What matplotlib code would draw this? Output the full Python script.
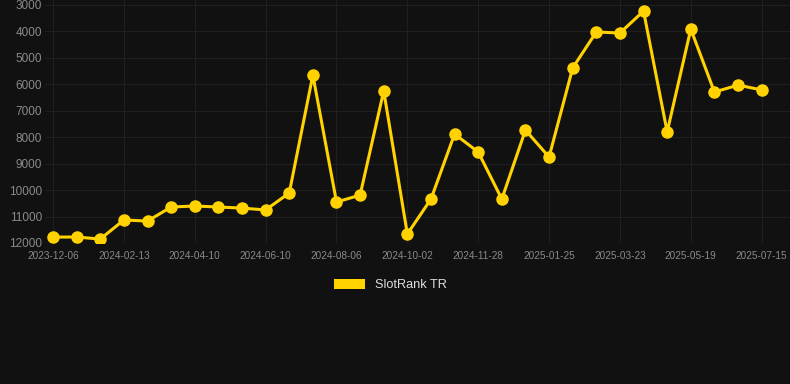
import matplotlib.pyplot as plt
from matplotlib.patches import Patch

# Data (rank, lower is better; axis inverted)
dates = ['2023-12-06', '2023-12-29', '2024-01-21', '2024-02-13', '2024-03-02',
         '2024-03-21', '2024-04-10', '2024-04-30', '2024-05-21', '2024-06-10',
         '2024-06-29', '2024-07-18', '2024-08-06', '2024-08-25', '2024-09-13',
         '2024-10-02', '2024-10-21', '2024-11-09', '2024-11-28', '2024-12-17',
         '2025-01-05', '2025-01-25', '2025-02-13', '2025-03-04', '2025-03-23',
         '2025-04-11', '2025-04-30', '2025-05-19', '2025-06-07', '2025-06-26',
         '2025-07-15']
rank = [11775, 11775, 11850, 11130, 11170, 10640, 10600, 10640, 10680, 10750,
        10110, 5650, 10450, 10190, 6250, 11660, 10340, 7880, 8560, 10340,
        7730, 8750, 5380, 4020, 4060, 3230, 7800, 3910, 6290, 6030, 6210]
yticks = [3000, 4000, 5000, 6000, 7000, 8000, 9000, 10000, 11000, 12000]

BG = '#111111'
GOLD = '#FFD200'

fig = plt.figure(figsize=(7.9, 3.84), dpi=100, facecolor=BG)
ax = fig.add_axes([45 / 790, 1 - 243 / 384, 745 / 790, 243 / 384])
ax.set_facecolor(BG)

x = list(range(len(dates)))
ax.plot(x, rank, color=GOLD, linewidth=2.2, marker='o', markersize=8,
        zorder=3)

ax.set_ylim(12000, 2811)
ax.set_xlim(-0.34, 31.2)
ax.set_yticks(yticks)
ax.set_yticklabels([str(v) for v in yticks])
ax.set_xticks(x[::3])
ax.set_xticklabels(dates[::3])

ax.grid(True, color='#1f1f1f', linewidth=0.8)
ax.axhline(12000, color='#2c2c2c', linewidth=0.8, zorder=1)
for s in ax.spines.values():
    s.set_visible(False)
ax.tick_params(axis='y', length=0, pad=2, labelsize=8.5, labelcolor='#8a8a8a')
ax.tick_params(axis='x', length=0, pad=6, labelsize=7.2, labelcolor='#8a8a8a')
for lbl in ax.get_xticklabels() + ax.get_yticklabels():
    lbl.set_fontfamily('Liberation Sans')

fig.legend(handles=[Patch(facecolor=GOLD, label='SlotRank TR')],
           loc='center', bbox_to_anchor=(0.494, 1 - 285 / 384),
           frameon=False, handlelength=2.4, handleheight=0.8,
           prop={'family': 'Liberation Sans', 'size': 9.2},
           labelcolor='#dddddd')

fig.savefig('out.png', dpi=100, facecolor=BG)
plt.close()
